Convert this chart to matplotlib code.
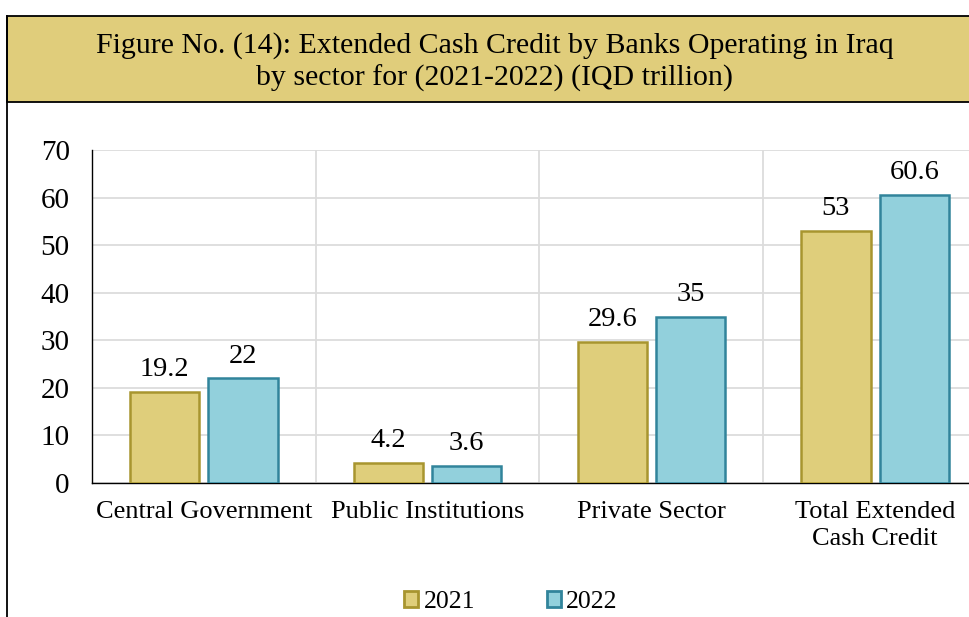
import matplotlib.pyplot as plt
from matplotlib.patches import Rectangle, Patch
from matplotlib.lines import Line2D
import numpy as np

plt.rcParams['font.family'] = ['Liberation Serif', 'DejaVu Serif']

# Cash credit by sector, IQD trillion
sectors = ["Central Government", "Public Institutions", "Private Sector",
           "Total Extended\nCash Credit"]
years = ["2021", "2022"]
credit_2021 = [19.2, 4.2, 29.6, 53]
credit_2022 = [22, 3.6, 35, 60.6]
y_ticks = [0, 10, 20, 30, 40, 50, 60, 70]

fill_21, edge_21 = "#DFCE7B", "#A8952F"
fill_22, edge_22 = "#92D0DC", "#31849B"

W, H = 970, 617
fig = plt.figure(figsize=(W / 100, H / 100), dpi=100)

# title band and outer frame
fig.patches.append(Rectangle((7 / W, 1 - 102 / H), 1.1, (102 - 16) / H,
                             transform=fig.transFigure, facecolor="#E0CD7B",
                             edgecolor="black", lw=1.3, zorder=0))
fig.lines.append(Line2D([7 / W, 7 / W], [0, 1 - 16 / H], transform=fig.transFigure,
                        color="black", lw=1.3))
fig.text(495 / W, 1 - 46 / H, "Figure No. (14): Extended Cash Credit by Banks Operating in Iraq",
         ha="center", va="center", fontsize=21.5)
fig.text(495 / W, 1 - 78 / H, "by sector for (2021-2022) (IQD trillion)",
         ha="center", va="center", fontsize=21.5)

ax = fig.add_axes([92 / W, 1 - 483 / H, (987 - 92) / W, (483 - 150) / H])
x = np.arange(len(sectors))
bw = 0.31
gap = 0.02
b1 = ax.bar(x - bw / 2 - gap, credit_2021, bw, color=fill_21, edgecolor=edge_21,
            lw=1.8, zorder=3, label=years[0])
b2 = ax.bar(x + bw / 2 + gap, credit_2022, bw, color=fill_22, edgecolor=edge_22,
            lw=1.8, zorder=3, label=years[1])

for bars, vals in ((b1, credit_2021), (b2, credit_2022)):
    for bar, v in zip(bars, vals):
        ax.annotate(f"{v:g}", (bar.get_x() + bar.get_width() / 2, v),
                    xytext=(0, 7), textcoords="offset points",
                    ha="center", va="bottom", fontsize=20.5)

ax.set_xlim(-0.5, 3.5)
ax.set_ylim(0, 70)
ax.set_yticks(y_ticks)
ax.set_xticks(x)
ax.set_xticklabels(sectors, fontsize=19, linespacing=1.3)
ax.tick_params(axis="y", labelsize=21, length=0, pad=16)
ax.tick_params(axis="x", length=0, pad=13)

ax.grid(axis="y", color="#DCDCDC", lw=1.3, zorder=0)
ax.set_xticks([0.5, 1.5, 2.5], minor=True)
ax.grid(axis="x", which="minor", color="#DCDCDC", lw=1.3, zorder=0)
ax.tick_params(axis="x", which="minor", length=0)
for s in ("top", "right"):
    ax.spines[s].set_visible(False)
ax.spines["left"].set_color("black")
ax.spines["bottom"].set_color("black")
ax.spines["left"].set_linewidth(1)
ax.spines["bottom"].set_linewidth(1)

handles = [Patch(facecolor=fill_21, edgecolor=edge_21, lw=2),
           Patch(facecolor=fill_22, edgecolor=edge_22, lw=2)]
fig.legend(handles, years, loc="center", bbox_to_anchor=(511 / W, 1 - 602 / H),
           ncol=2, frameon=False, fontsize=18.5, handlelength=0.55, handleheight=0.55,
           handletextpad=0.2, columnspacing=2.8)

fig.savefig("out.png", dpi=100)
